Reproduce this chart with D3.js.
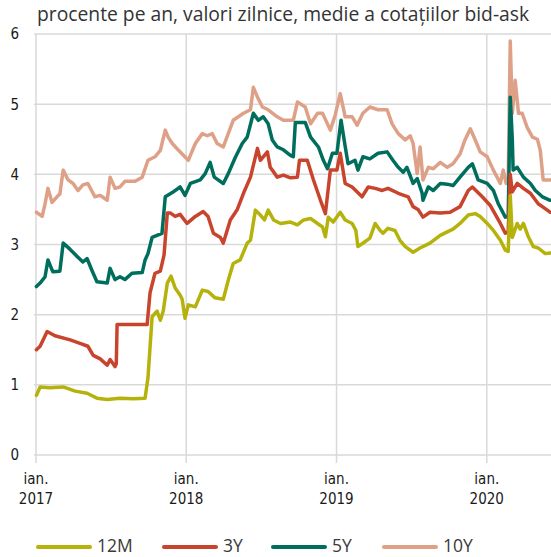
<!DOCTYPE html>
<html>
<head>
<meta charset="utf-8">
<script src="https://cdn.jsdelivr.net/npm/d3@7"></script>
<style>
  body { margin: 0; background: #fff; }
  .tick-label { font-family: "DejaVu Sans", sans-serif; font-stretch: condensed; font-size: 15px; fill: #1a1a1a; }
  .title { font-family: "Open Sans", "Noto Sans", sans-serif; font-size: 19.3px; fill: #333; }
  .legend-label { font-family: "Open Sans", "Noto Sans", sans-serif; font-size: 17.5px; fill: #3a3a3a; }
</style>
</head>
<body>
<svg id="chart" width="551" height="557"></svg>
<script>
// 12M - randamente zilnice
var series12M = [["2017-01-02",0.85],["2017-01-11",0.97],["2017-02-04",0.96],["2017-03-08",0.97],["2017-04-06",0.91],["2017-05-05",0.88],["2017-05-29",0.81],["2017-06-23",0.79],["2017-07-24",0.81],["2017-08-25",0.80],["2017-09-23",0.81],["2017-09-30",1.10],["2017-10-10",1.97],["2017-10-22",2.05],["2017-10-30",1.92],["2017-11-06",2.05],["2017-11-16",2.45],["2017-11-25",2.55],["2017-12-05",2.38],["2017-12-17",2.28],["2017-12-22",2.22],["2017-12-29",1.95],["2018-01-06",2.14],["2018-01-23",2.11],["2018-02-09",2.35],["2018-02-23",2.33],["2018-03-12",2.24],["2018-04-01",2.22],["2018-04-13",2.49],["2018-04-25",2.73],["2018-05-12",2.78],["2018-05-29",3.02],["2018-06-06",3.06],["2018-06-18",3.49],["2018-06-30",3.42],["2018-07-10",3.35],["2018-07-19",3.49],["2018-08-01",3.35],["2018-08-18",3.30],["2018-09-11",3.32],["2018-09-28",3.28],["2018-10-13",3.35],["2018-10-30",3.37],["2018-11-16",3.30],["2018-11-28",3.25],["2018-12-05",3.11],["2018-12-12",3.39],["2018-12-24",3.32],["2019-01-10",3.46],["2019-01-22",3.35],["2019-02-08",3.30],["2019-02-17",3.20],["2019-02-22",2.97],["2019-03-11",3.04],["2019-03-23",3.09],["2019-04-05",3.30],["2019-04-17",3.20],["2019-04-24",3.16],["2019-05-06",3.23],["2019-05-23",3.20],["2019-06-04",3.06],["2019-06-17",2.97],["2019-07-06",2.89],["2019-07-23",2.95],["2019-08-16",3.02],["2019-09-10",3.13],["2019-09-27",3.18],["2019-10-11",3.22],["2019-10-28",3.30],["2019-11-17",3.42],["2019-12-04",3.44],["2019-12-16",3.40],["2020-01-02",3.30],["2020-01-17",3.20],["2020-02-03",3.06],["2020-02-15",2.92],["2020-02-22",2.90],["2020-02-27",3.70],["2020-03-03",3.10],["2020-03-15",3.30],["2020-03-22",3.22],["2020-03-30",3.30],["2020-04-11",3.11],["2020-04-23",2.97],["2020-05-05",2.95],["2020-05-22",2.87],["2020-06-03",2.88]];

// 3Y
var series3Y = [["2017-01-02",1.50],["2017-01-11",1.55],["2017-01-28",1.76],["2017-02-16",1.70],["2017-03-25",1.64],["2017-04-18",1.59],["2017-05-07",1.55],["2017-05-20",1.42],["2017-06-06",1.37],["2017-06-23",1.28],["2017-06-30",1.36],["2017-07-12",1.26],["2017-07-15",1.30],["2017-07-17",1.86],["2017-08-05",1.86],["2017-08-30",1.86],["2017-09-28",1.86],["2017-10-05",2.31],["2017-10-17",2.59],["2017-10-30",2.62],["2017-11-08",2.85],["2017-11-16",3.45],["2017-11-23",3.45],["2017-12-05",3.40],["2017-12-17",3.43],["2018-01-03",3.30],["2018-01-23",3.40],["2018-02-11",3.47],["2018-02-23",3.40],["2018-03-08",3.16],["2018-03-25",3.10],["2018-04-01",3.02],["2018-04-18",3.35],["2018-05-05",3.50],["2018-05-20",3.73],["2018-06-06",3.96],["2018-06-23",4.37],["2018-06-30",4.20],["2018-07-17",4.32],["2018-07-24",4.10],["2018-08-10",3.96],["2018-08-25",3.99],["2018-09-11",3.95],["2018-09-28",3.96],["2018-10-03",4.20],["2018-10-22",4.20],["2018-11-06",3.92],["2018-11-23",3.63],["2018-12-05",3.44],["2018-12-17",4.06],["2019-01-02",4.06],["2019-01-10",4.30],["2019-01-22",3.87],["2019-02-08",3.82],["2019-03-04",3.68],["2019-03-19",3.82],["2019-04-05",3.80],["2019-04-22",3.77],["2019-05-06",3.80],["2019-05-31",3.73],["2019-06-24",3.68],["2019-07-06",3.54],["2019-07-18",3.50],["2019-07-30",3.39],["2019-08-16",3.46],["2019-09-10",3.45],["2019-10-04",3.46],["2019-10-28",3.54],["2019-11-17",3.77],["2019-11-27",3.82],["2019-12-21",3.68],["2020-01-09",3.56],["2020-02-03",3.30],["2020-02-15",3.16],["2020-02-22",3.18],["2020-02-27",4.00],["2020-03-03",3.75],["2020-03-15",3.87],["2020-03-30",3.80],["2020-04-16",3.73],["2020-05-05",3.58],["2020-05-27",3.49],["2020-06-03",3.46]];

// 5Y
var series5Y = [["2017-01-02",2.40],["2017-01-11",2.45],["2017-01-23",2.54],["2017-01-30",2.78],["2017-02-11",2.61],["2017-02-28",2.62],["2017-03-08",3.02],["2017-03-25",2.93],["2017-04-11",2.83],["2017-04-25",2.75],["2017-05-05",2.80],["2017-05-17",2.63],["2017-05-29",2.47],["2017-06-23",2.45],["2017-06-30",2.66],["2017-07-12",2.50],["2017-07-24",2.54],["2017-08-05",2.50],["2017-08-22",2.59],["2017-09-16",2.60],["2017-09-23",2.78],["2017-09-30",2.87],["2017-10-10",3.10],["2017-11-03",3.16],["2017-11-11",3.68],["2017-11-28",3.74],["2017-12-17",3.82],["2017-12-29",3.70],["2018-01-11",3.87],["2018-02-04",3.92],["2018-02-16",4.01],["2018-02-28",4.17],["2018-03-10",3.96],["2018-04-01",3.87],["2018-04-13",4.01],["2018-04-30",4.24],["2018-05-17",4.44],["2018-05-29",4.53],["2018-06-13",4.87],["2018-06-25",4.77],["2018-07-07",4.82],["2018-07-19",4.72],["2018-07-29",4.49],["2018-08-10",4.39],["2018-08-25",4.35],["2018-09-11",4.27],["2018-09-18",4.25],["2018-09-23",4.74],["2018-10-17",4.74],["2018-10-30",4.53],["2018-11-18",4.39],["2018-11-30",4.20],["2018-12-10",4.08],["2018-12-22",4.30],["2019-01-02",4.30],["2019-01-12",4.77],["2019-01-22",4.40],["2019-01-29",4.15],["2019-02-15",4.20],["2019-02-22",4.06],["2019-03-06",4.25],["2019-03-23",4.22],["2019-04-12",4.30],["2019-05-04",4.32],["2019-05-18",4.20],["2019-05-31",4.10],["2019-06-12",4.03],["2019-06-21",4.10],["2019-07-06",3.87],["2019-07-16",3.94],["2019-07-28",3.73],["2019-07-30",3.63],["2019-08-12",3.82],["2019-08-24",3.77],["2019-09-10",3.87],["2019-09-27",3.86],["2019-10-11",3.84],["2019-10-28",3.96],["2019-11-17",4.10],["2019-11-27",4.15],["2019-12-11",3.92],["2020-01-02",3.87],["2020-01-17",3.77],["2020-01-29",3.58],["2020-02-15",3.39],["2020-02-22",3.40],["2020-02-27",5.10],["2020-03-03",4.50],["2020-03-05",4.06],["2020-03-15",4.10],["2020-03-30",3.96],["2020-04-16",3.87],["2020-04-28",3.77],["2020-05-15",3.68],["2020-06-03",3.63]];

// 10Y
var series10Y = [["2017-01-02",3.46],["2017-01-16",3.40],["2017-01-23",3.58],["2017-01-30",3.80],["2017-02-09",3.60],["2017-02-21",3.68],["2017-02-28",3.72],["2017-03-08",4.06],["2017-03-20",3.92],["2017-04-01",3.87],["2017-04-13",3.77],["2017-04-25",3.85],["2017-05-07",3.87],["2017-05-24",3.68],["2017-06-06",3.70],["2017-06-23",3.63],["2017-06-30",3.96],["2017-07-12",3.80],["2017-07-24",3.82],["2017-08-05",3.90],["2017-08-30",3.90],["2017-09-16",3.96],["2017-09-30",4.20],["2017-10-17",4.25],["2017-10-30",4.34],["2017-11-11",4.63],["2017-11-18",4.53],["2017-11-28",4.44],["2017-12-12",4.35],["2018-01-06",4.20],["2018-01-23",4.44],["2018-02-09",4.58],["2018-02-21",4.55],["2018-03-05",4.58],["2018-03-17",4.44],["2018-04-01",4.39],["2018-04-25",4.77],["2018-05-20",4.87],["2018-06-06",4.92],["2018-06-13",5.24],["2018-06-23",5.10],["2018-07-05",4.96],["2018-07-19",4.92],["2018-08-10",4.82],["2018-08-25",4.77],["2018-09-18",4.77],["2018-09-28",5.03],["2018-10-17",4.96],["2018-10-30",4.72],["2018-11-16",4.87],["2018-11-28",4.87],["2018-12-17",4.63],["2018-12-29",4.85],["2019-01-10",5.15],["2019-01-22",4.82],["2019-02-08",4.82],["2019-02-20",4.70],["2019-03-06",4.87],["2019-03-23",4.96],["2019-04-12",4.92],["2019-05-04",4.92],["2019-05-16",4.72],["2019-05-31",4.58],["2019-06-17",4.49],["2019-06-29",4.55],["2019-07-06",4.44],["2019-07-16",4.01],["2019-07-23",4.39],["2019-07-30",3.92],["2019-08-12",4.10],["2019-08-24",4.08],["2019-09-10",4.17],["2019-09-27",4.10],["2019-10-11",4.15],["2019-10-28",4.29],["2019-11-09",4.49],["2019-11-22",4.65],["2019-12-04",4.49],["2019-12-16",4.32],["2020-01-02",4.25],["2020-01-17",4.06],["2020-02-03",3.87],["2020-02-10",4.06],["2020-02-17",3.87],["2020-02-22",3.90],["2020-02-27",5.90],["2020-03-03",4.87],["2020-03-10",5.34],["2020-03-18",4.87],["2020-03-27",4.87],["2020-04-08",4.67],["2020-04-21",4.53],["2020-05-03",4.50],["2020-05-10",4.34],["2020-05-17",3.92],["2020-06-03",3.92]];

var seriesNames = ["12M", "3Y", "5Y", "10Y"];
var yTicks = [0, 1, 2, 3, 4, 5, 6];
var xTicks = ["2017-01-01", "2018-01-01", "2019-01-01", "2020-01-01"];
var xTickMonth = ["ian.", "ian.", "ian.", "ian."];
var xTickYear = ["2017", "2018", "2019", "2020"];
var titleText = "procente pe an, valori zilnice, medie a cotațiilor bid-ask";

var allSeries = {"12M": series12M, "3Y": series3Y, "5Y": series5Y, "10Y": series10Y};

var parse = d3.timeParse("%Y-%m-%d");

var width = 551, height = 557;
var plotLeft = 36, plotRight = 551, plotTop = 34, plotBottom = 455;

var x = d3.scaleTime()
    .domain([parse("2017-01-01"), parse("2020-06-05")])
    .range([plotLeft, plotRight]);

var y = d3.scaleLinear()
    .domain([0, 6])
    .range([plotBottom, plotTop]);

var color = d3.scaleOrdinal()
    .domain(seriesNames)
    .range(["#b5b20c", "#c8442c", "#006e5d", "#dfa088"]);

var svg = d3.select("#chart");

// grid
svg.append("g")
    .selectAll("line")
    .data(yTicks)
    .enter().append("line")
    .attr("x1", plotLeft - 2)
    .attr("x2", plotRight)
    .attr("y1", function (d) { return y(d); })
    .attr("y2", function (d) { return y(d); })
    .attr("stroke", "#d9d9d9")
    .attr("stroke-width", 1.5);

svg.append("g")
    .selectAll("line")
    .data(xTicks)
    .enter().append("line")
    .attr("x1", function (d) { return x(parse(d)); })
    .attr("x2", function (d) { return x(parse(d)); })
    .attr("y1", plotTop)
    .attr("y2", plotBottom + 8)
    .attr("stroke", "#d9d9d9")
    .attr("stroke-width", 1.5);

// y labels
svg.append("g")
    .selectAll("text")
    .data(yTicks)
    .enter().append("text")
    .attr("class", "tick-label")
    .attr("x", 19)
    .attr("y", function (d) { return y(d); })
    .attr("dy", "0.36em")
    .attr("text-anchor", "end")
    .text(function (d) { return d; });

// x labels
var xl = svg.append("g")
    .selectAll("g")
    .data(xTicks)
    .enter().append("g")
    .attr("transform", function (d) { return "translate(" + x(parse(d)) + ",0)"; });

xl.append("text")
    .attr("class", "tick-label")
    .attr("y", 484)
    .attr("text-anchor", "middle")
    .text(function (d, i) { return xTickMonth[i]; });

xl.append("text")
    .attr("class", "tick-label")
    .attr("y", 504)
    .attr("text-anchor", "middle")
    .text(function (d, i) { return xTickYear[i]; });

// title
svg.append("text")
    .attr("class", "title")
    .attr("x", 37)
    .attr("y", 21)
    .text(titleText);

// lines
var line = d3.line()
    .x(function (d) { return x(parse(d[0])); })
    .y(function (d) { return y(d[1]); });

var drawOrder = ["10Y", "5Y", "3Y", "12M"];
svg.append("g")
    .selectAll("path")
    .data(drawOrder)
    .enter().append("path")
    .attr("d", function (k) { return line(allSeries[k]); })
    .attr("fill", "none")
    .attr("stroke", function (k) { return color(k); })
    .attr("stroke-width", 3.5)
    .attr("stroke-linejoin", "round")
    .attr("stroke-linecap", "round");

// legend
var legendX = [38, 164, 273, 384];
var lg = svg.append("g")
    .selectAll("g")
    .data(seriesNames)
    .enter().append("g")
    .attr("transform", function (d, i) { return "translate(" + legendX[i] + ",546)"; });

lg.append("line")
    .attr("x1", 0)
    .attr("x2", 52)
    .attr("y1", 1)
    .attr("y2", 1)
    .attr("stroke", function (d) { return color(d); })
    .attr("stroke-width", 4)
    .attr("stroke-linecap", "round");

lg.append("text")
    .attr("class", "legend-label")
    .attr("x", 59)
    .attr("dy", "0.34em")
    .text(function (d) { return d; });
</script>
</body>
</html>
